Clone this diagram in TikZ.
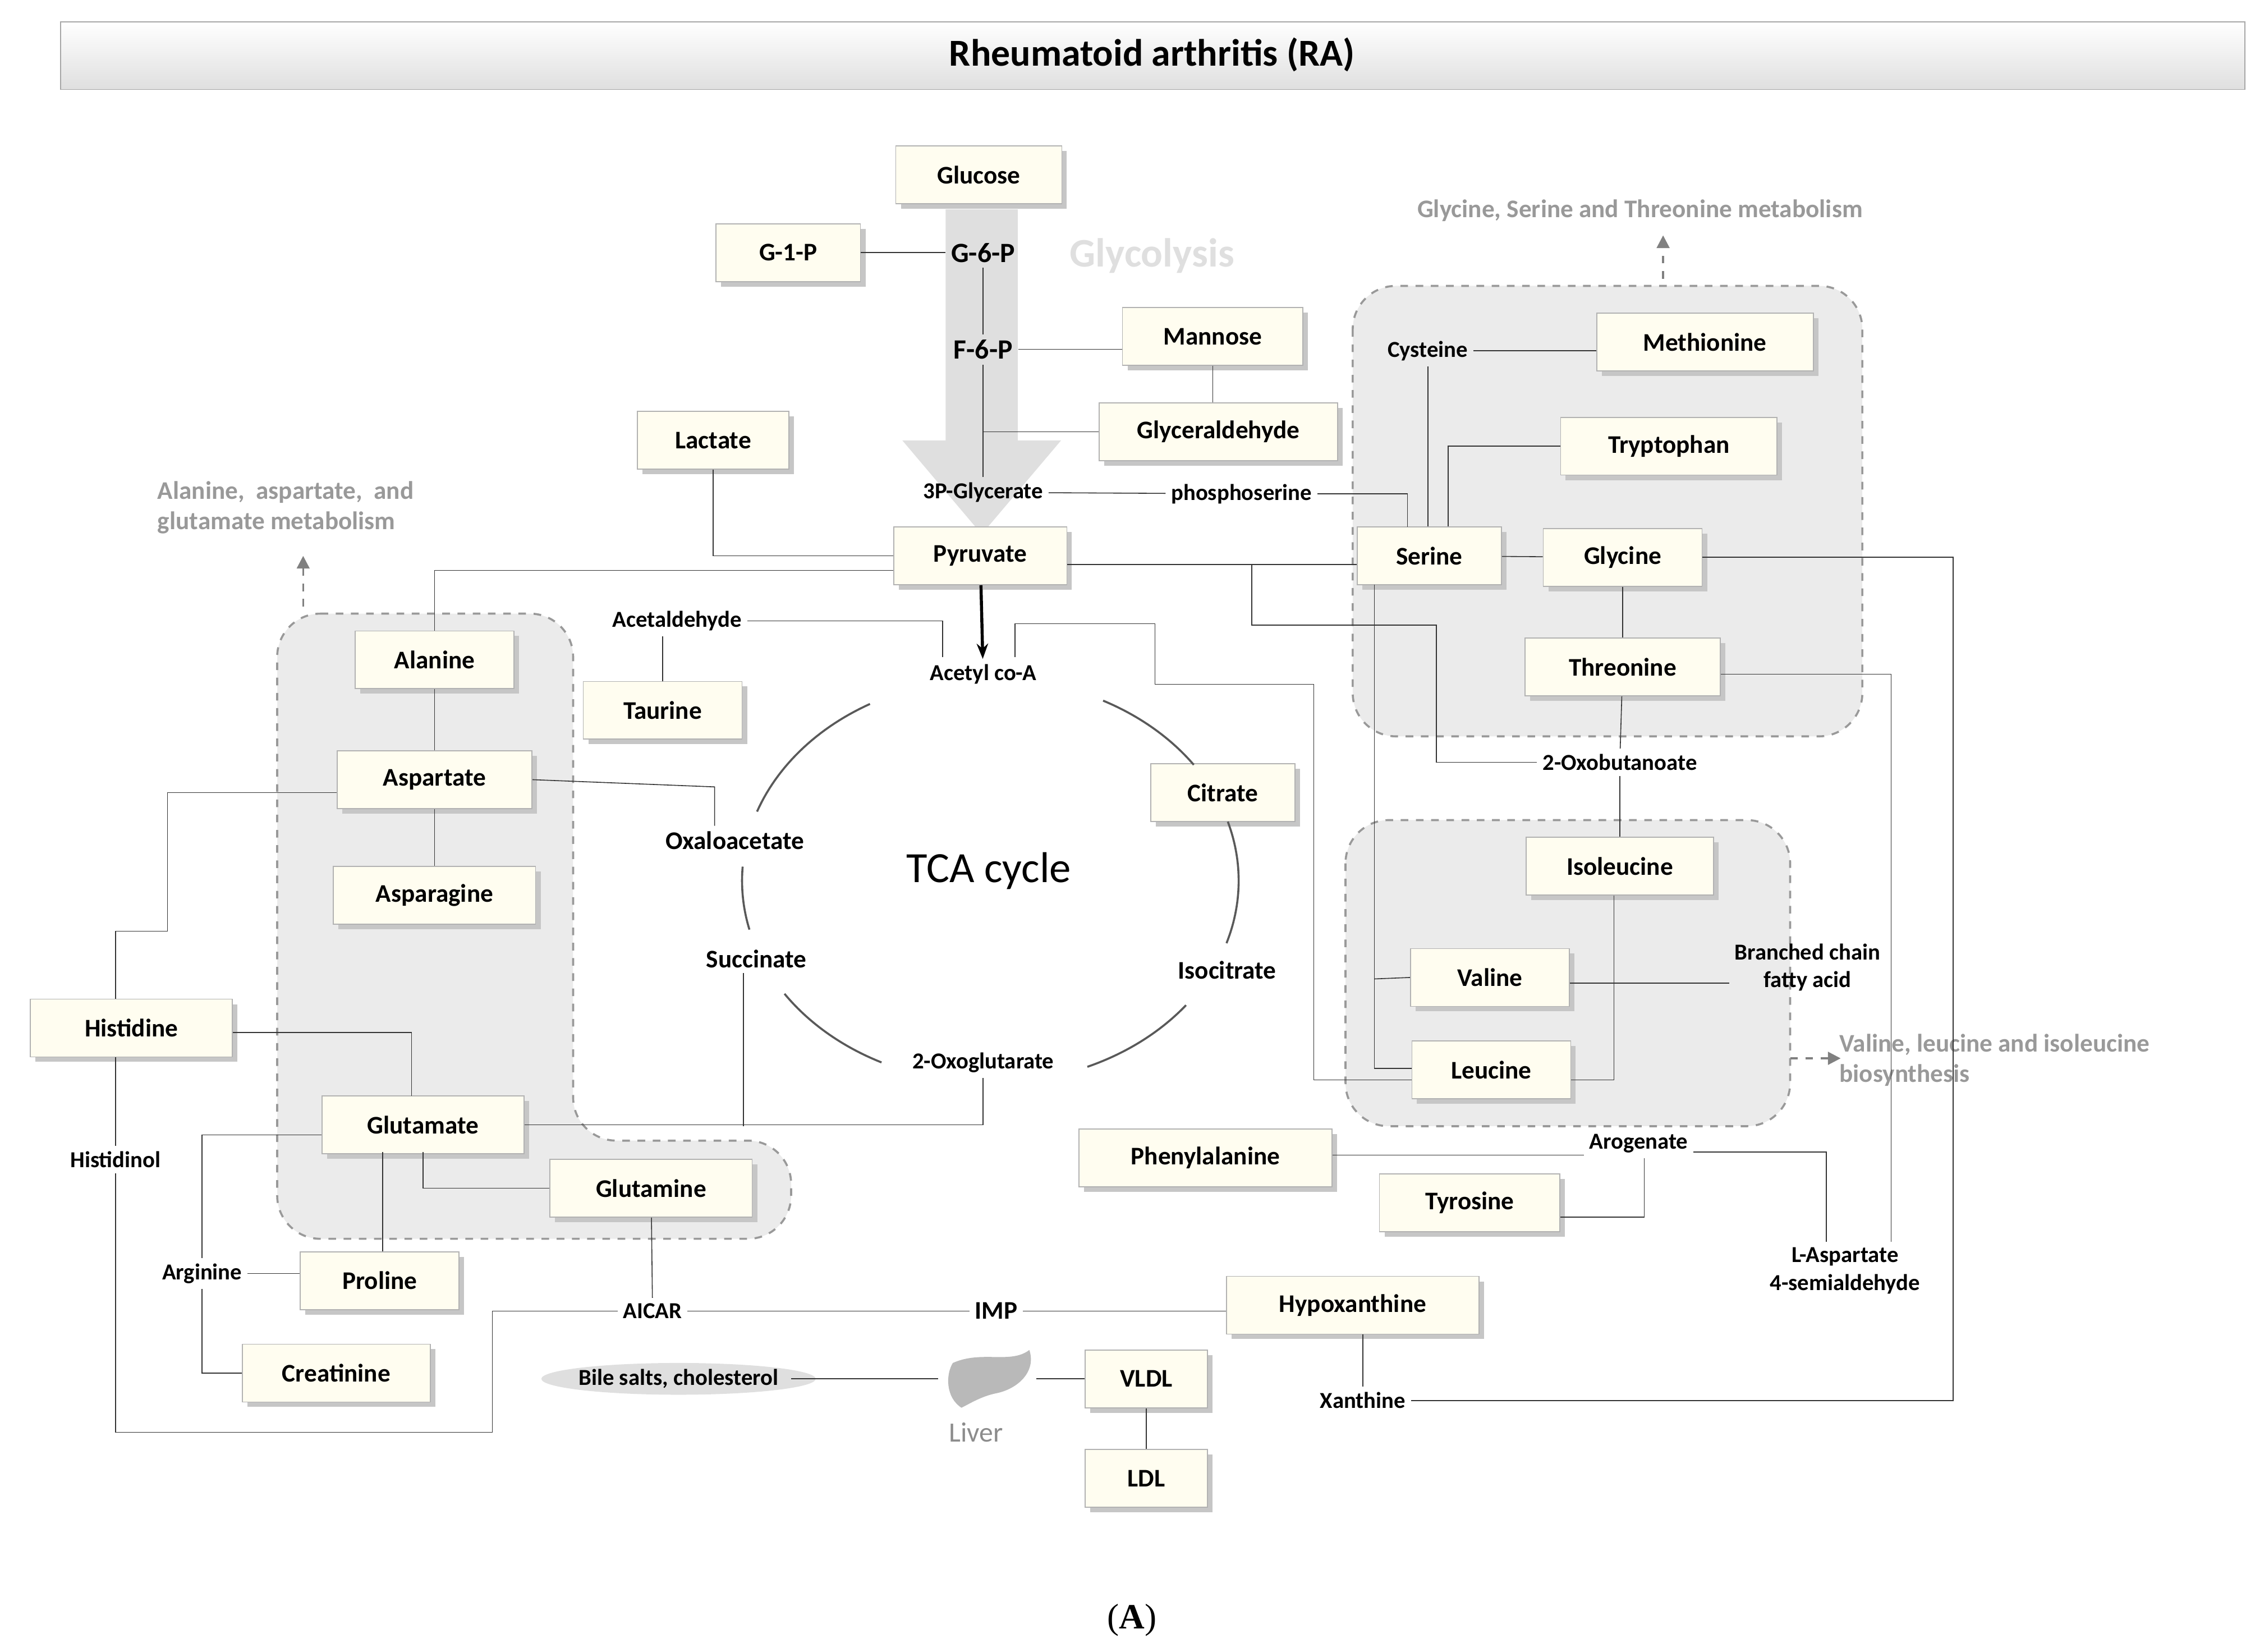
\documentclass[tikz,border=0pt]{standalone}
\usepackage{fontspec}
\setmainfont{Carlito}
\newfontfamily\panelfont{Liberation Serif}
\usetikzlibrary{positioning, shadows, arrows.meta}
\definecolor{cream}{HTML}{FFFDF0}
\definecolor{region}{HTML}{EBEBEB}
\tikzset{
    box/.style={draw=gray!60, fill=cream, minimum height=8mm, inner sep=1pt,
        font=\fontsize{10}{12}\selectfont\bfseries,
        drop shadow={shadow xshift=0.7mm, shadow yshift=-0.7mm, fill=gray!45, opacity=1}},
    lbl/.style={font=\fontsize{9}{11}\selectfont\bfseries, inner sep=2pt},
    note/.style={font=\fontsize{10}{12}\selectfont\bfseries, text=gray!80, align=left},
    link/.style={draw=black!80, line width=0.35pt},
    group/.style={draw=gray!80, dashed, thick, fill=region, rounded corners=6mm},
    hint/.style={-{Triangle[width=5pt,length=5pt]}, gray, dashed, thick}
}
\begin{document}
\begin{tikzpicture}[x=0.2mm, y=-0.2mm]
    \useasboundingbox (0,0) rectangle (1562,1144);
    % Title
    \shade[top color=white, bottom color=gray!25, draw=gray!70] (42,15) rectangle (1555,62);
    \node[font=\fontsize{15}{18}\selectfont\bfseries] (title) at (798,38) {Rheumatoid arthritis (RA)};
    % Regions
    \path[group] (192,425) -- (397,425) -- (397,790) -- (548,790) -- (548,858) -- (192,858) -- cycle;
    \path[group] (937,198) rectangle (1290,510);
    \path[group] (932,568) rectangle (1240,780);
    % Glycolysis arrow
    \fill[gray!25] (655,145) -- (705,145) -- (705,305) -- (735,305) -- (680,370) -- (625,305) -- (655,305) -- cycle;
    \node[font=\fontsize{16}{19}\selectfont\bfseries, text=gray!25] (glyco) at (798,177) {Glycolysis};
    % Notes
    \node[note, anchor=north west] (nala) at (103,327) {Alanine,\ \ aspartate,\ \ and\\glutamate metabolism};
    \draw[hint] (210,420) -- (210,385);
    \node[note] (ngly) at (1136,146) {Glycine, Serine and Threonine metabolism};
    \draw[hint] (1152,193) -- (1152,163);
    \node[note, anchor=north west] (nval) at (1268,710) {Valine, leucine and isoleucine\\biosynthesis};
    \draw[hint] (1240,733) -- (1275,733);
    % Boxes
    \node[box, minimum width=23mm] (glc) at (678,121) {Glucose};
    \node[box, minimum width=20mm] (g1p) at (546,175) {G-1-P};
    \node[box, minimum width=25mm] (man) at (840,233) {Mannose};
    \node[box, minimum width=33mm] (gald) at (844,299) {Glyceraldehyde};
    \node[box, minimum width=21mm] (lac) at (494,305) {Lactate};
    \node[box, minimum width=24mm] (pyr) at (679,385) {Pyruvate};
    \node[box, minimum width=22mm] (tau) at (459,492) {Taurine};
    \node[box, minimum width=20mm] (cit) at (847,549) {Citrate};
    \node[box, minimum width=22mm] (ala) at (301,457) {Alanine};
    \node[box, minimum width=27mm] (asp) at (301,540) {Aspartate};
    \node[box, minimum width=28mm] (asn) at (301,620) {Asparagine};
    \node[box, minimum width=28mm] (his) at (91,712) {Histidine};
    \node[box, minimum width=28mm] (glu) at (293,779) {Glutamate};
    \node[box, minimum width=28mm] (gln) at (451,823) {Glutamine};
    \node[box, minimum width=22mm] (pro) at (263,887) {Proline};
    \node[box, minimum width=26mm] (cre) at (233,951) {Creatinine};
    \node[box, minimum width=35mm] (hyp) at (937,904) {Hypoxanthine};
    \node[box, minimum width=17mm] (vldl) at (794,955) {VLDL};
    \node[box, minimum width=17mm] (ldl) at (794,1024) {LDL};
    \node[box, minimum width=30mm] (met) at (1181,237) {Methionine};
    \node[box, minimum width=30mm] (trp) at (1156,309) {Tryptophan};
    \node[box, minimum width=20mm] (ser) at (990,385) {Serine};
    \node[box, minimum width=22mm] (gly) at (1124,386) {Glycine};
    \node[box, minimum width=27mm] (thr) at (1124,462) {Threonine};
    \node[box, minimum width=26mm] (ile) at (1122,600) {Isoleucine};
    \node[box, minimum width=22mm] (val) at (1032,677) {Valine};
    \node[box, minimum width=22mm] (leu) at (1033,741) {Leucine};
    \node[box, minimum width=35mm] (phe) at (835,802) {Phenylalanine};
    \node[box, minimum width=25mm] (tyr) at (1018,833) {Tyrosine};
    % Plain labels
    \node[lbl, font=\fontsize{11}{13}\selectfont\bfseries] (g6p) at (681,175) {G-6-P};
    \node[lbl, font=\fontsize{11}{13}\selectfont\bfseries] (f6p) at (681,242) {F-6-P};
    \node[lbl] (p3g) at (681,341) {3P-Glycerate};
    \node[lbl] (pser) at (860,342) {phosphoserine};
    \node[lbl] (acoa) at (681,467) {Acetyl co-A};
    \node[lbl] (acald) at (469,430) {Acetaldehyde};
    \node[lbl, font=\fontsize{10}{12}\selectfont\bfseries] (oaa) at (509,582) {Oxaloacetate};
    \node[lbl, font=\fontsize{10}{12}\selectfont\bfseries] (suc) at (524,664) {Succinate};
    \node[lbl, font=\fontsize{10}{12}\selectfont\bfseries] (icit) at (850,672) {Isocitrate};
    \node[lbl] (ogl) at (681,736) {2-Oxoglutarate};
    \node[font=\fontsize{17}{20}\selectfont] (tca) at (685,603) {TCA cycle};
    \node[lbl] (hisol) at (80,803) {Histidinol};
    \node[lbl] (arg) at (140,882) {Arginine};
    \node[lbl] (aicar) at (452,908) {AICAR};
    \node[lbl, font=\fontsize{10}{12}\selectfont\bfseries] (imp) at (690,908) {IMP};
    \node[lbl] (xan) at (944,970) {Xanthine};
    \node[lbl] (cys) at (989,243) {Cysteine};
    \node[lbl] (oxb) at (1122,528) {2-Oxobutanoate};
    \node[lbl, align=center] (bcfa) at (1252,670) {Branched chain\\fatty acid};
    \node[lbl] (arog) at (1135,792) {Arogenate};
    \node[lbl, align=center] (lasp) at (1278,880) {L-Aspartate\\4-semialdehyde};
    \fill[gray!25] (470,955) ellipse (95 and 11);
    \node[lbl] (bile) at (470,955) {Bile salts, cholesterol};
    % Liver
    \fill[gray!55] (660,944) .. controls (680,935) and (700,945) .. (713,935)
        .. controls (718,950) and (705,962) .. (690,965)
        .. controls (680,967) and (672,972) .. (666,975)
        .. controls (655,968) and (655,952) .. (660,944) -- cycle;
    \coordinate (liv) at (686,955);
    \node[font=\fontsize{11}{13}\selectfont, text=gray!90] (livl) at (676,992) {Liver};
    % TCA arcs
    \foreach \a/\b in {119/160, 35/63, -18/17, -67/-38, -146/-116, 176/194}
        \draw[link, thick, gray!70!black] plot[domain=\a:\b, samples=30] ({686+172*cos(\x)},{610-140*sin(\x)});
    % Glycolysis links
    \draw[link] (g1p) -- (g6p);
    \draw[link] (g6p) -- (f6p);
    \draw[link] (f6p.east) -- (f6p.east -| man.west);
    \draw[link] (man) -- (man |- gald.north);
    \draw[link] (f6p) -- (p3g);
    \draw[link] (gald.west) -- (681,299);
    \draw[link] (lac) |- (pyr);
    \draw[link] (p3g) -- (pser);
    \draw[link] (pser) -| (975,365);
    \draw[-{Stealth[length=6pt]}, very thick] (pyr) -- (acoa);
    \draw[link] (pyr.east |- 0,391) -- (ser.west |- 0,391);
    \draw[link] (867,391) -- (867,433) -- (995,433) |- (oxb);
    \draw[link] (pyr.west |- 0,395) -| (ala);
    \draw[link] (acald) -| (653,455);
    \draw[link] (acald.south -| tau) -- (tau);
    \draw[link] (703,455) -- (703,432) -- (800,432) -- (800,474) -- (910,474) |- (leu.west |- 0,748);
    % Left side
    \draw[link] (ala) -- (asp);
    \draw[link] (asp) -- (asn);
    \draw[link] (asp.east) -- (495,545) -- (oaa.north -| 495,0);
    \draw[link] (asp.west |- 0,549) -- (116,549) -- (116,645) -| (his.north -| 80,0);
    \draw[link] (his.east |- 0,715) -| (285,759);
    \draw[link] (his.south -| 80,0) -- (hisol.north -| 80,0);
    \draw[link] (hisol.south -| 80,0) -- (80,992) -- (341,992) |- (aicar);
    \draw[link] (glu.east) -| (ogl);
    \draw[link] (suc.south -| 515,0) -- (515,780);
    \draw[link] (293,798) |- (gln);
    \draw[link] (265,798) -- (pro.north -| 265,0);
    \draw[link] (glu.west |- 0,786) -| (arg);
    \draw[link] (arg.east) -- (arg.east -| pro.west);
    \draw[link] (arg) |- (cre);
    \draw[link] (gln) -- (aicar);
    \draw[link] (aicar.east) -- (aicar.east -| imp.west);
    \draw[link] (imp.east) -- (imp.east -| hyp.west);
    \draw[link] (hyp.south -| xan) -- (xan);
    \draw[link] (xan) -- (1353,970) |- (gly);
    \draw[link] (bile.east) ++(5,0) -- (650,955);
    \draw[link] (718,955) -- (vldl);
    \draw[link] (vldl) -- (ldl);
    % Right side
    \draw[link] (cys) -- (met.west |- cys);
    \draw[link] (cys) -- (ser.north -| cys);
    \draw[link] (trp.west) -| (ser.north -| 1003,0);
    \draw[link] (ser) -- (gly);
    \draw[link] (gly) -- (thr);
    \draw[link] (thr) -- (oxb);
    \draw[link] (oxb) -- (ile);
    \draw[link] (952,405) |- (leu.west |- 0,740);
    \draw[link] (952,678) -- (val.west);
    \draw[link] (ile.south -| 1118,0) |- (leu.east |- 0,748);
    \draw[link] (val.east |- 0,681) -- (bcfa.west |- 0,681);
    \draw[link] (thr.east |- 0,467) -| (lasp.north -| 1310,0);
    \draw[link] (phe.east |- 0,800) -- (arog.west |- 0,800);
    \draw[link] (arog.south -| 1139,0) |- (tyr.east |- 0,843);
    \draw[link] (arog.east |- 0,798) -| (lasp.north -| 1265,0);
    % Panel label
    \node[font=\fontsize{14}{16}\selectfont\panelfont] (panel) at (784,1122) {(\textbf{A})};
\end{tikzpicture}
\end{document}
